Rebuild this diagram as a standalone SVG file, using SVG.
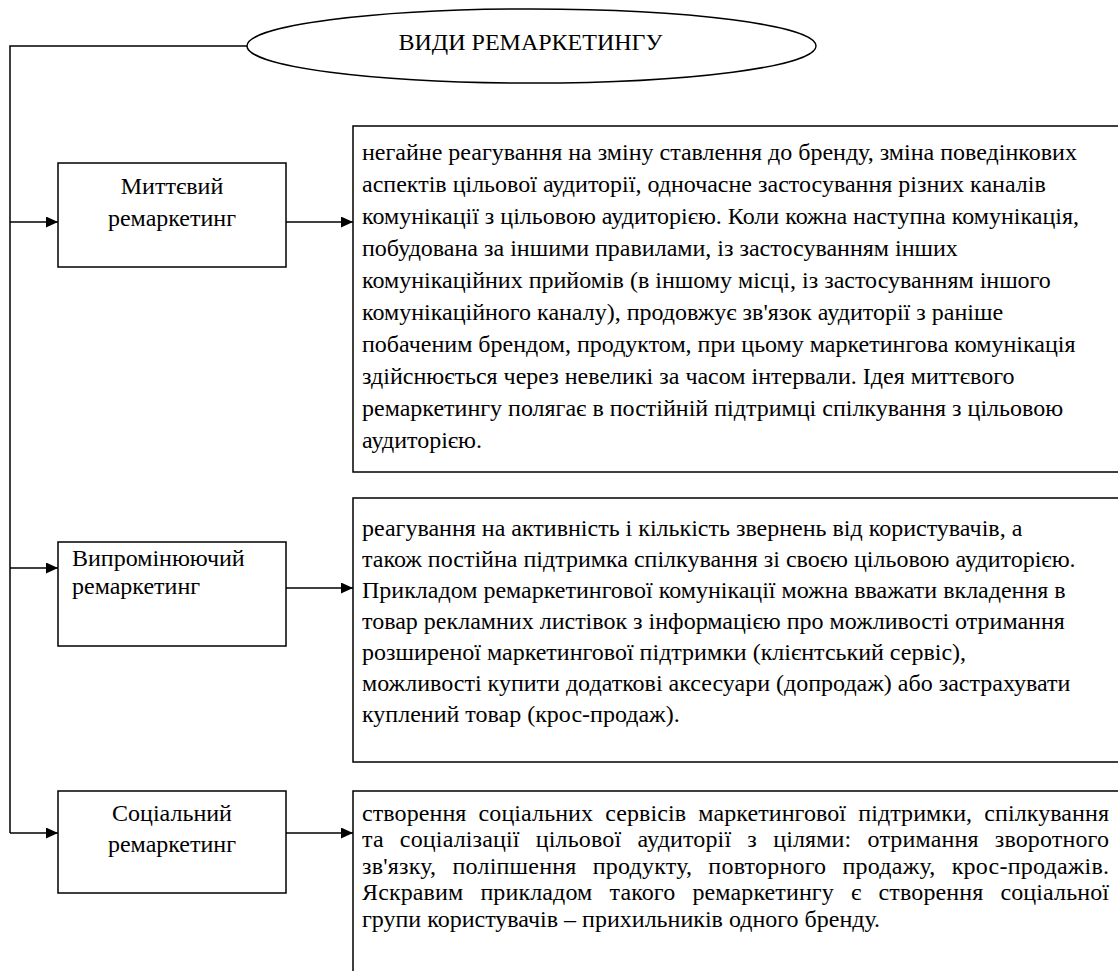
<svg xmlns="http://www.w3.org/2000/svg" width="1118" height="971" viewBox="0 0 1118 971" font-family="'Liberation Serif', 'Times New Roman', serif">
<defs>
<marker id="arr" markerUnits="userSpaceOnUse" markerWidth="13" markerHeight="12" refX="12" refY="5.5" orient="auto">
<path d="M0,0 L12,5.5 L0,11 z" fill="#000"/>
</marker>
</defs>
<style>
.box{fill:#fff;stroke:#000;stroke-width:1.5}
.con{fill:none;stroke:#000;stroke-width:1.5}
.arrow{fill:none;stroke:#000;stroke-width:1.5;marker-end:url(#arr)}
text{font-family:'Liberation Serif','Times New Roman',serif;font-size:24px;fill:#000}
.c{text-anchor:middle}
</style>
<rect width="1118" height="971" fill="#fff"/>
<g id="connectors">
<path class="con" d="M247,46 H10 V833"/>
<line class="arrow" x1="10" y1="222" x2="58" y2="222"/>
<line class="arrow" x1="10" y1="568" x2="58" y2="568"/>
<line class="arrow" x1="10" y1="833" x2="58" y2="833"/>
<line class="arrow" x1="286" y1="222" x2="353" y2="222"/>
<line class="arrow" x1="286" y1="588" x2="353" y2="588"/>
<line class="arrow" x1="286" y1="833" x2="353" y2="833"/>
</g>
<g id="title">
<ellipse class="box" cx="531.5" cy="46" rx="284.5" ry="37"/>
<text x="530.5" y="50" class="c">ВИДИ РЕМАРКЕТИНГУ</text>
</g>
<g id="type1">
<rect class="box" x="58" y="163" width="228" height="104"/>
<text x="172" y="193.5" class="c">Миттєвий</text>
<text x="172" y="225.5" class="c">ремаркетинг</text>
</g>
<g id="desc1">
<rect class="box" x="353" y="126" width="800" height="346"/>
<text x="362" y="160">негайне реагування на зміну ставлення до бренду, зміна поведінкових</text>
<text x="362" y="192">аспектів цільової аудиторії, одночасне застосування різних каналів</text>
<text x="362" y="224">комунікації з цільовою аудиторією. Коли кожна наступна комунікація,</text>
<text x="362" y="256">побудована за іншими правилами, із застосуванням інших</text>
<text x="362" y="288">комунікаційних прийомів (в іншому місці, із застосуванням іншого</text>
<text x="362" y="320">комунікаційного каналу), продовжує зв'язок аудиторії з раніше</text>
<text x="362" y="352">побаченим брендом, продуктом, при цьому маркетингова комунікація</text>
<text x="362" y="384">здійснюється через невеликі за часом інтервали. Ідея миттєвого</text>
<text x="362" y="416">ремаркетингу полягає в постійній підтримці спілкування з цільовою</text>
<text x="362" y="448">аудиторією.</text>
</g>
<g id="type2">
<rect class="box" x="58" y="542" width="228" height="104"/>
<text x="72" y="565.5">Випромінюючий</text>
<text x="72" y="593.5">ремаркетинг</text>
</g>
<g id="desc2">
<rect class="box" x="353" y="498" width="800" height="264"/>
<text x="362" y="535.5">реагування на активність і кількість звернень від користувачів, а</text>
<text x="362" y="566.5">також постійна підтримка спілкування зі своєю цільовою аудиторією.</text>
<text x="362" y="597.5">Прикладом ремаркетингової комунікації можна вважати вкладення в</text>
<text x="362" y="628.5">товар рекламних листівок з інформацією про можливості отримання</text>
<text x="362" y="659.5">розширеної маркетингової підтримки (клієнтський сервіс),</text>
<text x="362" y="690.5">можливості купити додаткові аксесуари (допродаж) або застрахувати</text>
<text x="362" y="721.5">куплений товар (крос-продаж).</text>
</g>
<g id="type3">
<rect class="box" x="58" y="791" width="228" height="102"/>
<text x="172" y="820.5" class="c">Соціальний</text>
<text x="172" y="851.5" class="c">ремаркетинг</text>
</g>
<g id="desc3">
<rect class="box" x="353" y="791" width="800" height="250"/>
<text x="362" y="820.5" word-spacing="6" textLength="747" lengthAdjust="spacing">створення соціальних сервісів маркетингової підтримки, спілкування</text>
<text x="362" y="847" word-spacing="10" textLength="747" lengthAdjust="spacing">та соціалізації цільової аудиторії з цілями: отримання зворотного</text>
<text x="362" y="873.5" word-spacing="10" textLength="747" lengthAdjust="spacing">зв'язку, поліпшення продукту, повторного продажу, крос-продажів.</text>
<text x="362" y="900" word-spacing="11" textLength="747" lengthAdjust="spacing">Яскравим прикладом такого ремаркетингу є створення соціальної</text>
<text x="362" y="927">групи користувачів – прихильників одного бренду.</text>
</g>
</svg>
